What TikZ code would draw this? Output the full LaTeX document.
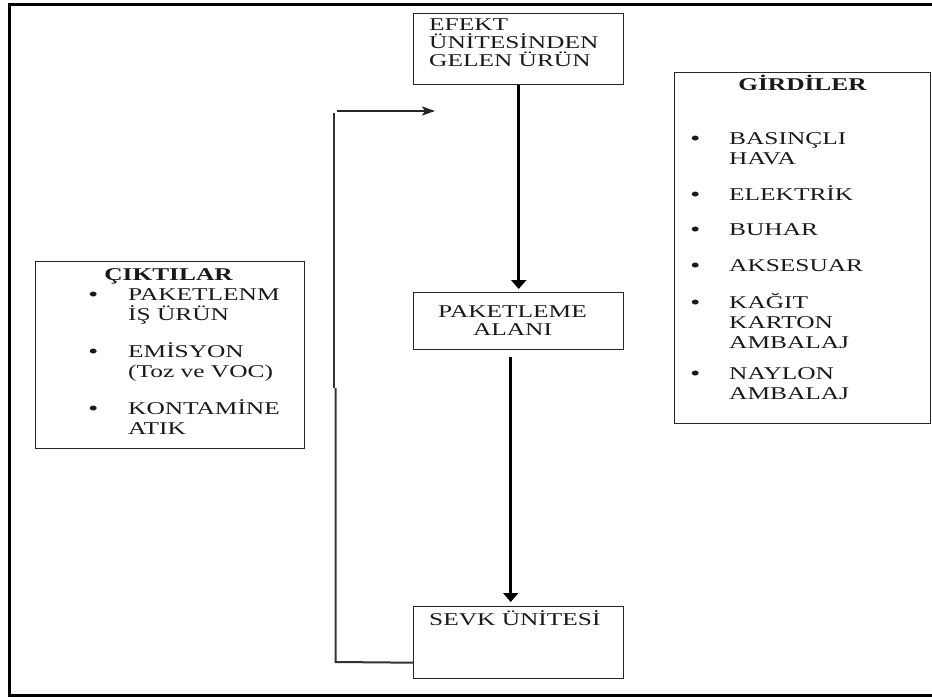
\documentclass[tikz,border=0pt]{standalone}
\usepackage{fontspec}
\setmainfont{Liberation Serif}[FakeStretch=1.41]
\usetikzlibrary{arrows.meta}
\begin{document}
\begin{tikzpicture}[x=1pt,y=-1pt,
  box/.style={draw=black!85, line width=1.4pt, inner sep=0pt, anchor=north west},
  txt/.style={inner sep=0pt, text=black!90, font=\fontsize{18}{18}\selectfont},
  ttl/.style={inner sep=0pt, text=black!90, font=\fontsize{18}{18}\selectfont\bfseries},
  flow/.style={draw=black, line width=3pt, -{Triangle[width=15pt,length=9pt]}},
  back/.style={draw=black!80, line width=2pt},
  backarrow/.style={draw=black!85, line width=2pt, -{Stealth[length=13pt,width=9pt,inset=3pt]}}
]
\useasboundingbox (0,0) rectangle (932,698);
\draw[line width=3pt] (9.5,4.5) rectangle (945,695.5);

% boxes
\node[box, minimum width=210pt, minimum height=71pt] (efekt) at (413,13) {};
\node[box, minimum width=210pt, minimum height=57pt] (paket) at (413,292) {};
\node[box, minimum width=210pt, minimum height=72pt] (sevk) at (413,606) {};
\node[box, minimum width=269pt, minimum height=187pt] (cikti) at (35,261) {};
\node[box, minimum width=256pt, minimum height=351pt] (girdi) at (674,72) {};

% texts (base anchor of a multi-line node = last line)
\node[txt, anchor=base west, align=left] (efektT) at (429,66.5) {EFEKT\\ÜNİTESİNDEN\\GELEN ÜRÜN};
\node[txt, anchor=base, align=center] (paketT) at (512.5,335) {PAKETLEME\\ALANI};
\node[txt, anchor=base west] (sevkT) at (429,625) {SEVK ÜNİTESİ};

\node[ttl, anchor=base] (ciktiT) at (168.5,280) {ÇIKTILAR};
\node[inner sep=0pt, text=black!90, font=\fontsize{18}{19.5}\selectfont, anchor=base west] (ciktiL) at (88.6,300)
 {\begin{tabular}[t]{@{}p{39.4pt}@{}l@{}}
 \textbf{•} & PAKETLENM\\
   & İŞ ÜRÜN\\[16.5pt]
 \textbf{•} & EMİSYON\\
   & (Toz ve VOC)\\[16.5pt]
 \textbf{•} & KONTAMİNE\\
   & ATIK
 \end{tabular}};

\node[ttl, anchor=base] (girdiT) at (802.5,91) {GİRDİLER};
\node[inner sep=0pt, text=black!90, font=\fontsize{18}{20}\selectfont, anchor=base west] (girdiL) at (690.6,145)
 {\begin{tabular}[t]{@{}p{38.4pt}@{}l@{}}
 \textbf{•} & BASINÇLI\\
   & HAVA\\[15pt]
 \textbf{•} & ELEKTRİK\\[15pt]
 \textbf{•} & BUHAR\\[16pt]
 \textbf{•} & AKSESUAR\\[15pt]
 \textbf{•} & KAĞIT\\
   & KARTON\\
   & AMBALAJ\\[11pt]
 \textbf{•} & NAYLON\\
   & AMBALAJ
 \end{tabular}};

% connectors
\draw[flow, shorten >=3pt] (efekt.south) -- (paket.north);
\draw[flow, shorten >=4pt] ([xshift=-8pt,yshift=-7pt]paket.south) -- ([xshift=-8pt]sevk.north);

\coordinate (fbend) at (435,111);
\coordinate (c1) at (335.5,662);
\coordinate (c2) at (335.5,388);
\coordinate (c3) at (333.5,388);
\coordinate (c4) at (333.5,113);
\coordinate (c5) at (337,111);
\draw[back] ([yshift=-20pt]sevk.west) -- (c1) -- (c2);
\draw[back] (c3) -- (c4);
\draw[backarrow] (c5) -- (fbend);
\end{tikzpicture}
\end{document}
